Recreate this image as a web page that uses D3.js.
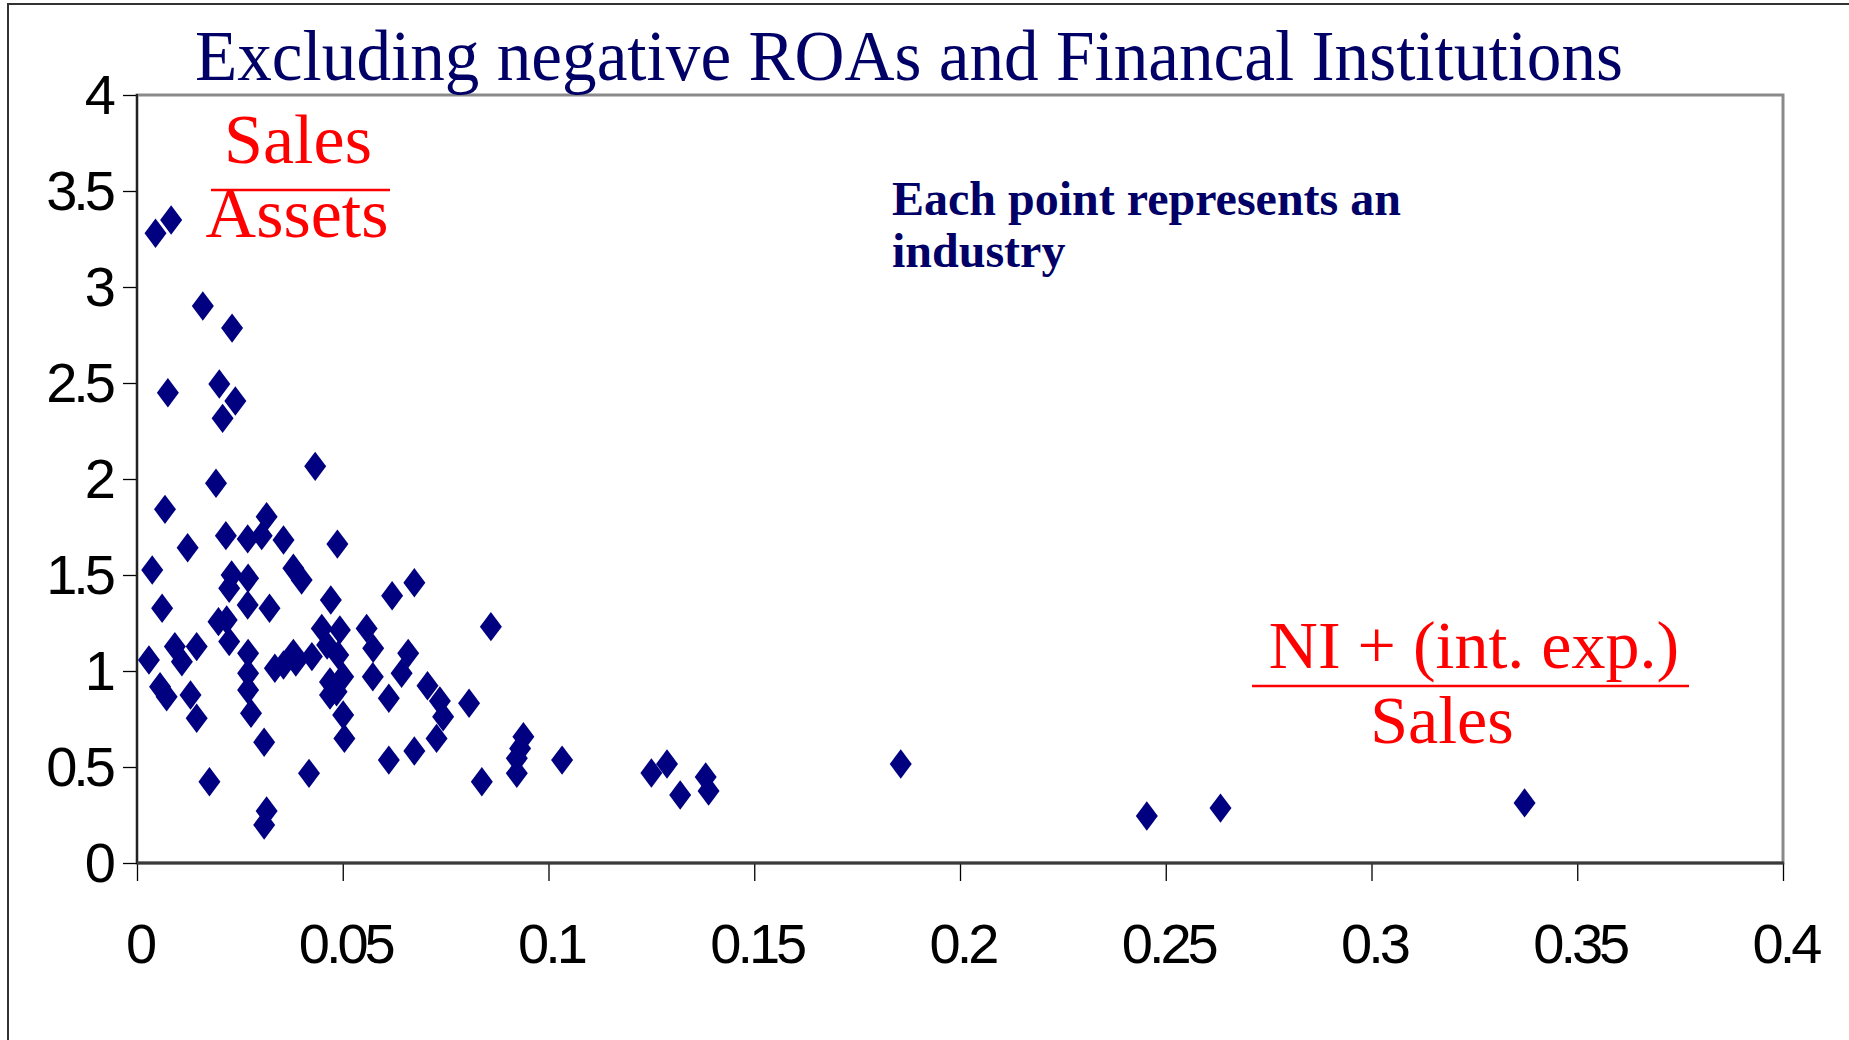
<!DOCTYPE html>
<html>
<head>
<meta charset="utf-8">
<title>Excluding negative ROAs and Financal Institutions</title>
<style>
  body { margin: 0; background: #fff; }
  svg { display: block; }
  .axis text {
    font-family: "Liberation Sans", Arial, sans-serif;
    font-size: 56px;
    letter-spacing: -4px;
    fill: #000;
  }
  .axis line { stroke: #000; stroke-width: 1.3; }
  .axis path { display: none; }
  .serif { font-family: "Liberation Serif", "Times New Roman", serif; }
</style>
</head>
<body>
<svg id="chart" width="1849" height="1040"></svg>
<script src="https://d3js.org/d3.v7.min.js"></script>
<script>
// axis ticks
var xTicks = [0, 0.05, 0.1, 0.15, 0.2, 0.25, 0.3, 0.35, 0.4];
var xTickLabels = ["0", "0.05", "0.1", "0.15", "0.2", "0.25", "0.3", "0.35", "0.4"];
var yTicks = [0, 0.5, 1, 1.5, 2, 2.5, 3, 3.5, 4];
var yTickLabels = ["0", "0.5", "1", "1.5", "2", "2.5", "3", "3.5", "4"];

// one point per industry: (NI + int. exp.) / Sales  vs  Sales / Assets
var profitMargin = [
  0.0045, 0.0083, 0.0160, 0.0231, 0.0075, 0.0200, 0.0239, 0.0208, 0.0433, 0.0192,
  0.0068, 0.0315, 0.0216, 0.0269, 0.0303, 0.0356, 0.0487, 0.0123, 0.0037, 0.0380,
  0.0400, 0.0230, 0.0270, 0.0224, 0.0471, 0.0061, 0.0269, 0.0322, 0.0674, 0.0620,
  0.0198, 0.0218, 0.0224, 0.0092, 0.0145, 0.0109, 0.0029, 0.0270, 0.0270, 0.0270,
  0.0277, 0.0056, 0.0072, 0.0130, 0.0145, 0.0309, 0.0335, 0.0356, 0.0380, 0.0425,
  0.0449, 0.0469, 0.0469, 0.0493, 0.0558, 0.0574, 0.0489, 0.0501, 0.0485, 0.0573,
  0.0659, 0.0643, 0.0612, 0.0706, 0.0736, 0.0744, 0.0728, 0.0674, 0.0612, 0.0807,
  0.0860, 0.0939, 0.0931, 0.0923, 0.0501, 0.0504, 0.0838, 0.0923, 0.0176, 0.0315,
  0.0309, 0.0418, 0.0386, 0.0462, 0.1033, 0.1250, 0.1288, 0.1320, 0.1382, 0.1389,
  0.1856, 0.2454, 0.2633, 0.3372
];
var assetTurnover = [
  3.280, 3.349, 2.901, 2.786, 2.449, 2.495, 2.406, 2.316, 2.066, 1.978,
  1.842, 1.804, 1.705, 1.688, 1.705, 1.682, 1.661, 1.642, 1.526, 1.535,
  1.474, 1.500, 1.483, 1.431, 1.370, 1.327, 1.344, 1.327, 1.460, 1.392,
  1.257, 1.266, 1.153, 1.127, 1.127, 1.048, 1.057, 1.092, 0.988, 0.901,
  0.780, 0.918, 0.866, 0.875, 0.754, 0.629, 1.014, 1.031, 1.092, 1.075,
  1.222, 0.943, 0.875, 1.214, 1.222, 1.118, 1.083, 0.970, 0.892, 0.970,
  1.092, 0.988, 0.858, 0.923, 0.844, 0.762, 0.649, 0.583, 0.536, 0.832,
  1.231, 0.658, 0.597, 0.545, 0.771, 0.649, 0.423, 0.467, 0.423, 0.271,
  0.198, 0.467, 1.047, 1.135, 0.536, 0.469, 0.516, 0.354, 0.448, 0.375,
  0.516, 0.245, 0.286, 0.313
];

var svg = d3.select("#chart");

// outer chart frame
svg.append("path")
  .attr("d", "M8,1040 L8,4 L1849,4")
  .attr("fill", "none")
  .attr("stroke", "#333")
  .attr("stroke-width", 2);

var x = d3.scaleLinear().domain([0, 0.4]).range([137, 1783]);
var y = d3.scaleLinear().domain([0, 4]).range([863, 95]);

// plot area border
svg.append("rect")
  .attr("x", x(0)).attr("y", y(4))
  .attr("width", x(0.4) - x(0)).attr("height", y(0) - y(4))
  .attr("fill", "#fff")
  .attr("stroke", "#8a8a8a")
  .attr("stroke-width", 3);

var yAxis = svg.append("g")
  .attr("class", "axis")
  .attr("transform", "translate(" + x(0) + ",0)")
  .call(d3.axisLeft(y).tickValues(yTicks).tickSize(14).tickSizeOuter(0)
    .tickFormat(function(d, i) { return yTickLabels[i]; }));
yAxis.selectAll("text")
  .attr("x", -25)
  .attr("dy", 18);

var xAxis = svg.append("g")
  .attr("class", "axis")
  .attr("transform", "translate(0," + y(0) + ")")
  .call(d3.axisBottom(x).tickValues(xTicks).tickSize(18).tickSizeOuter(0)
    .tickFormat(function(d, i) { return xTickLabels[i]; }));
xAxis.selectAll("text")
  .attr("y", 0)
  .attr("dy", 100)
  .attr("dx", 2);

// axis lines
svg.append("line")
  .attr("x1", x(0)).attr("x2", x(0))
  .attr("y1", y(4) - 1).attr("y2", y(0))
  .attr("stroke", "#222").attr("stroke-width", 2);
svg.append("line")
  .attr("x1", x(0)).attr("x2", x(0.4) + 1)
  .attr("y1", y(0)).attr("y2", y(0))
  .attr("stroke", "#3a3a3a").attr("stroke-width", 3);

// points
var points = profitMargin.map(function(d, i) { return { m: d, t: assetTurnover[i] }; });
svg.append("g")
  .selectAll("path")
  .data(points)
  .enter().append("path")
    .attr("d", "M0,-14.7 L11,0 L0,14.7 L-11,0 Z")
    .attr("transform", function(d) { return "translate(" + x(d.m) + "," + y(d.t) + ")"; })
    .attr("fill", "#000080");

// title
svg.append("text")
  .attr("class", "serif")
  .attr("x", 195).attr("y", 80)
  .attr("font-size", 71)
  .attr("fill", "#000066")
  .attr("textLength", 1428)
  .attr("lengthAdjust", "spacingAndGlyphs")
  .text("Excluding negative ROAs and Financal Institutions");

// note
var note = svg.append("text")
  .attr("class", "serif")
  .attr("font-size", 48)
  .attr("font-weight", "bold")
  .attr("fill", "#000066");
note.append("tspan").attr("x", 892).attr("y", 215).text("Each point represents an");
note.append("tspan").attr("x", 892).attr("y", 267).text("industry");

// y label: Sales / Assets
svg.append("text").attr("class", "serif")
  .attr("x", 298).attr("y", 163).attr("text-anchor", "middle")
  .attr("font-size", 70).attr("fill", "#ff0000").text("Sales");
svg.append("line")
  .attr("x1", 211).attr("x2", 390).attr("y1", 190).attr("y2", 190)
  .attr("stroke", "#ff0000").attr("stroke-width", 2.5);
svg.append("text").attr("class", "serif")
  .attr("x", 297).attr("y", 237).attr("text-anchor", "middle")
  .attr("font-size", 70).attr("fill", "#ff0000").text("Assets");

// x label: (NI + int. exp.) / Sales
svg.append("text").attr("class", "serif")
  .attr("x", 1474).attr("y", 668).attr("text-anchor", "middle")
  .attr("font-size", 68).attr("fill", "#ff0000").text("NI + (int. exp.)");
svg.append("line")
  .attr("x1", 1252).attr("x2", 1689).attr("y1", 686).attr("y2", 686)
  .attr("stroke", "#ff0000").attr("stroke-width", 2.5);
svg.append("text").attr("class", "serif")
  .attr("x", 1442).attr("y", 743).attr("text-anchor", "middle")
  .attr("font-size", 68).attr("fill", "#ff0000").text("Sales");
</script>
</body>
</html>
